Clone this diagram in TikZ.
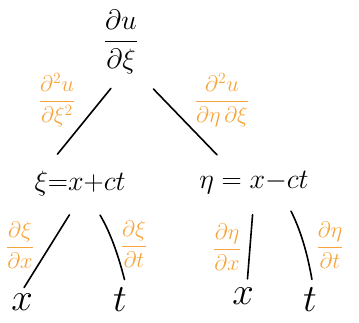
\documentclass[tikz,border=0pt]{standalone}
\usepackage{amsmath}
\definecolor{pencil}{RGB}{247,164,58}
\begin{document}
\begin{tikzpicture}[x=1pt,y=-1pt, line width=1.6pt, line cap=round, line join=round,
	term/.style={inner sep=1pt, font=\huge, scale=1.35},
	leaf/.style={inner sep=1pt, font=\Huge, scale=1.55},
	rate/.style={inner sep=1pt, text=pencil, font=\LARGE, scale=1.3}]
	\useasboundingbox (0,0) rectangle (359,322);
	% root and the two new variables
	\node[term] (du) at (121,42) {$\dfrac{\partial u}{\partial \xi}$};
	\node[term] (xi) at (80,183) {$\xi{=}x{+}ct$};
	\node[term] (eta) at (254,183) {$\eta = x{-}ct$};
	% leaves
	\node[leaf] (x1) at (22,302) {$x$};
	\node[leaf] (t1) at (120,300) {$t$};
	\node[leaf] (x2) at (243,296) {$x$};
	\node[leaf] (t2) at (310,300) {$t$};
	% branches
	\draw[shorten <=16pt, shorten >=18pt] (du.south) -- ([xshift=14pt]xi.north west);
	\draw[shorten <=18pt, shorten >=20pt] (du.south east) -- ([xshift=34pt]eta.north west);
	\draw[shorten <=20pt, shorten >=4pt] (xi.south) -- (x1.north);
	\draw[shorten <=20pt, shorten >=6pt] ([xshift=10pt]xi.south) to[bend left=8] ([xshift=6pt]t1.north);
	\draw[shorten <=18pt, shorten >=6pt] (eta.south) -- ([xshift=4pt]x2.north);
	\draw[shorten <=16pt, shorten >=6pt] ([xshift=30pt]eta.south) to[bend left=8] ([xshift=3pt]t2.north);
	% partial derivatives along the branches
	\node[rate] (dxixi) at (57,100) {$\dfrac{\partial^2 u}{\partial \xi^2}$};
	\node[rate] (detaxi) at (222,100) {$\dfrac{\partial^2 u}{\partial \eta\,\partial \xi}$};
	\node[rate] (dxix) at (20,245) {$\dfrac{\partial \xi}{\partial x}$};
	\node[rate] (dxit) at (134,244) {$\dfrac{\partial \xi}{\partial t}$};
	\node[rate] (detax) at (227,247) {$\dfrac{\partial \eta}{\partial x}$};
	\node[rate] (detat) at (330,245) {$\dfrac{\partial \eta}{\partial t}$};
\end{tikzpicture}
\end{document}
